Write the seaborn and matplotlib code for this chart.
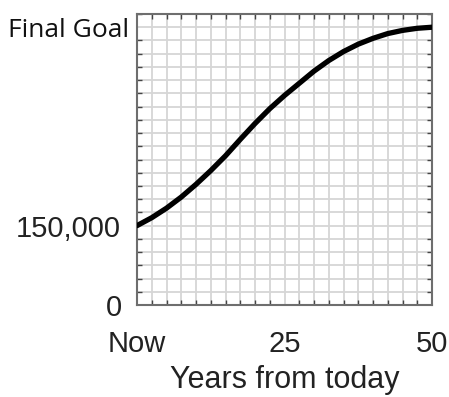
import matplotlib
matplotlib.use("Agg")
import matplotlib.pyplot as plt
import seaborn as sns
import pandas as pd
from matplotlib.ticker import MultipleLocator

# Data
years = [0, 2.5, 5, 7.5, 10, 12.5, 15, 17.5, 20, 22.5, 25,
         27.5, 30, 32.5, 35, 37.5, 40, 42.5, 45, 47.5, 50]
balance = [150000, 165000, 183000, 204000, 228000, 254000, 282000, 313000,
           343000, 371000, 396000, 419000, 442000, 462000, 479000, 493000,
           504000, 513000, 519000, 523000, 525000]
x_tick_values = [0, 25, 50]
x_tick_labels = ["Now", "25", "50"]
y_tick_values = [0, 150000, 525000]
y_tick_labels = ["0", "150,000", "Final Goal"]
x_label = "Years from today"

sns.set_theme(style="white")
plt.rcParams['font.family'] = ['Liberation Sans', 'DejaVu Sans']

W, H = 449, 397
fig = plt.figure(figsize=(W / 100, H / 100), dpi=100)
ax = fig.add_axes([137 / W, 1 - 305 / H, 295 / W, 291 / H])

df = pd.DataFrame({"years": years, "balance": balance})
sns.lineplot(data=df, x="years", y="balance", color="black",
             linewidth=3.8, ax=ax, zorder=3)

ax.set_xlim(0, 50)
ax.set_ylim(0, 550000)
ax.xaxis.set_minor_locator(MultipleLocator(2.5))
ax.yaxis.set_minor_locator(MultipleLocator(25000))
ax.grid(which="both", color="#d6d6d6", linewidth=1.3)
ax.set_axisbelow(True)

ax.set_xticks(x_tick_values)
ax.set_xticklabels(x_tick_labels, fontsize=21, color="#222222")
ax.set_yticks(y_tick_values)
ax.set_yticklabels(y_tick_labels, fontsize=21, color="#222222")

ax.tick_params(which="minor", direction="in", length=3.5, width=1,
               color="#444444", top=True, right=True, bottom=True, left=True)
ax.tick_params(which="major", length=0)
ax.tick_params(axis="x", which="major", pad=18)

ypads = [11, 12, 6]
for t, p in zip(ax.yaxis.get_major_ticks(), ypads):
    t.set_pad(p)
ylabels = ax.get_yticklabels()
ylabels[2].set_fontfamily(['Open Sans', 'DejaVu Sans'])
ylabels[2].set_fontsize(19)
ylabels[2].set_color("#111111")

for s in ax.spines.values():
    s.set_color("#6e6e6e")
    s.set_linewidth(1.5)
    s.set_visible(True)

ax.set_xlabel(x_label, fontsize=22, color="#222222", labelpad=5)
ax.set_ylabel("")

fig.savefig("out.png", dpi=100)
